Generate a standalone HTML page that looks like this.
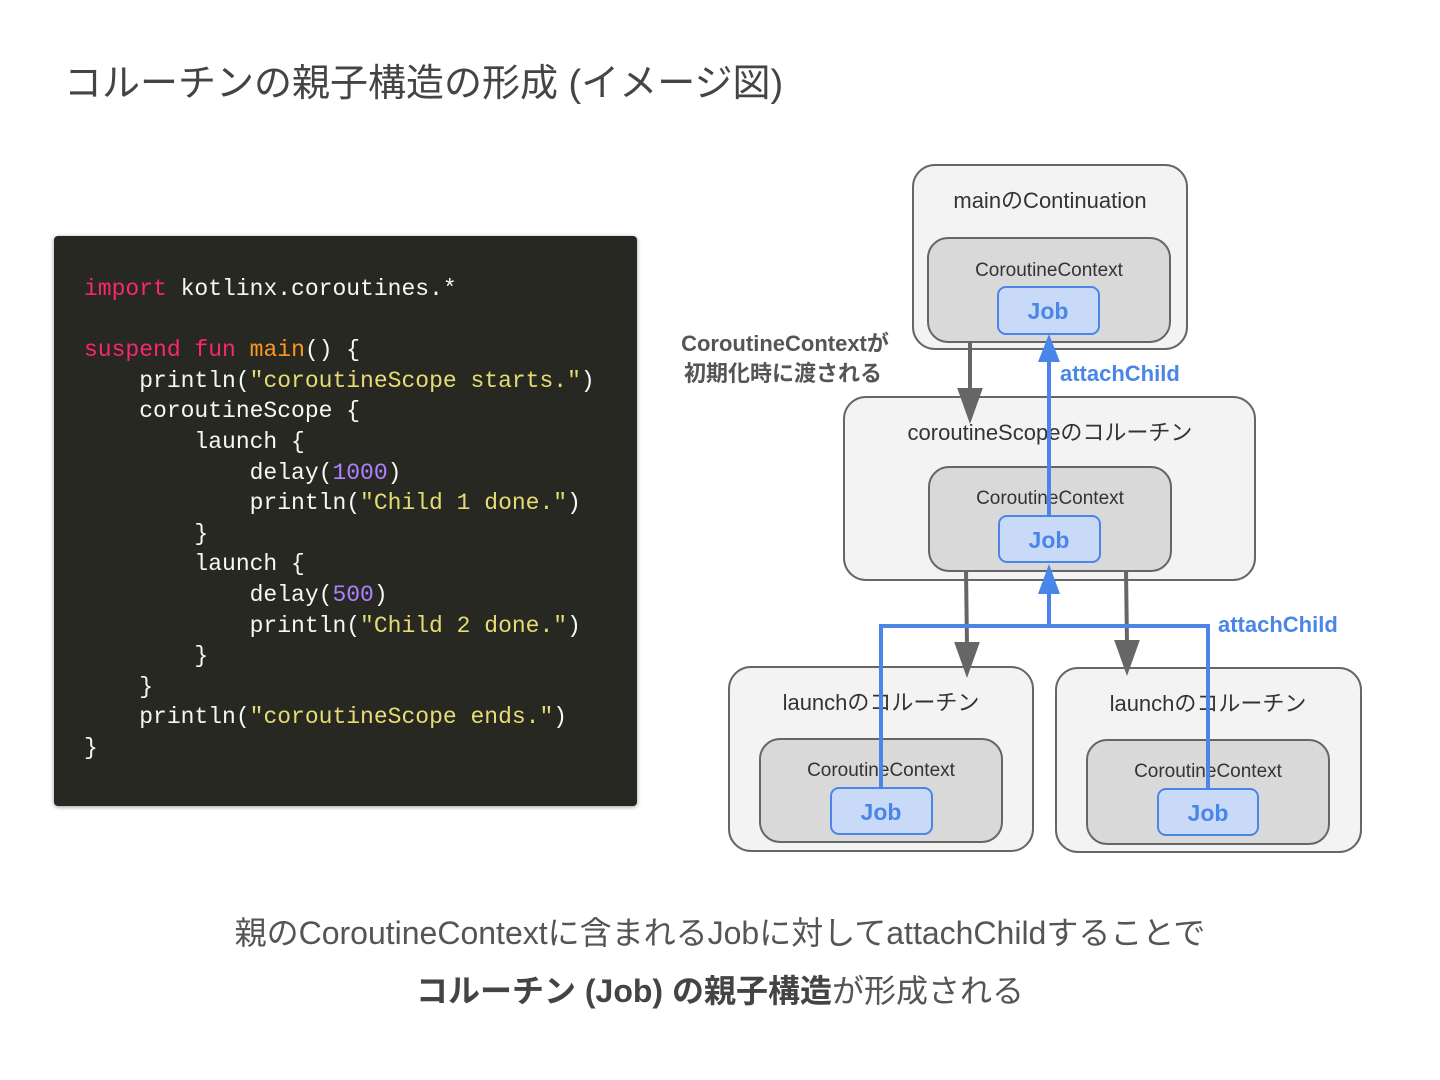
<!DOCTYPE html>
<html><head><meta charset="utf-8"><style>
body{margin:0;width:1440px;height:1080px;background:#fff;position:relative;overflow:hidden;font-family:"Liberation Sans","Noto Sans CJK JP",sans-serif}
.t{position:absolute;left:64px;top:52px;font-size:38px;color:#444;white-space:nowrap}
.code{position:absolute;left:54px;top:236px;width:583px;height:570px;background:#272822;border-radius:4px;box-shadow:0 1px 4px rgba(0,0,0,.4)}
.code pre{margin:0;position:absolute;left:30px;top:273px;font-family:"Liberation Mono","DejaVu Sans Mono",monospace;font-size:23px;line-height:30.6px;color:#f8f8f2}
.k{color:#f92672}.f{color:#fd971f}.s{color:#e6db74}.n{color:#ae81ff}
.b{position:absolute;left:0;width:1440px;text-align:center;font-size:32px;color:#555;white-space:nowrap}
</style></head><body>
<div class="t">コルーチンの親子構造の形成 (イメージ図)</div>
<div class="code"></div>
<pre style="position:absolute;left:84px;top:274px;margin:0;font-family:'Liberation Mono','DejaVu Sans Mono',monospace;font-size:23px;line-height:30.6px;color:#f8f8f2"><span class="k">import</span> kotlinx.coroutines.*

<span class="k">suspend</span> <span class="k">fun</span> <span class="f">main</span>() {
    println(<span class="s">"coroutineScope starts."</span>)
    coroutineScope {
        launch {
            delay(<span class="n">1000</span>)
            println(<span class="s">"Child 1 done."</span>)
        }
        launch {
            delay(<span class="n">500</span>)
            println(<span class="s">"Child 2 done."</span>)
        }
    }
    println(<span class="s">"coroutineScope ends."</span>)
}</pre>
<svg width="1440" height="1080" style="position:absolute;left:0;top:0" font-family="Liberation Sans, Noto Sans CJK JP, sans-serif">
<g stroke="#666" stroke-width="2">
<rect x="913" y="165" width="274" height="184" rx="22" fill="#f3f3f3"/>
<rect x="928" y="238" width="242" height="104" rx="20" fill="#d9d9d9"/>
<rect x="844" y="397" width="411" height="183" rx="22" fill="#f3f3f3"/>
<rect x="929" y="467" width="242" height="104" rx="20" fill="#d9d9d9"/>
<rect x="729" y="667" width="304" height="184" rx="22" fill="#f3f3f3"/>
<rect x="760" y="739" width="242" height="103" rx="20" fill="#d9d9d9"/>
<rect x="1056" y="668" width="305" height="184" rx="22" fill="#f3f3f3"/>
<rect x="1087" y="740" width="242" height="104" rx="20" fill="#d9d9d9"/>
</g>
<g fill="#333" font-size="22" text-anchor="middle">
<text x="1050" y="208">mainのContinuation</text>
<text x="1050" y="440">coroutineScopeのコルーチン</text>
<text x="881" y="710">launchのコルーチン</text>
<text x="1208" y="711">launchのコルーチン</text>
</g>
<g fill="#333" font-size="19" text-anchor="middle">
<text x="1049" y="276">CoroutineContext</text>
<text x="1050" y="504">CoroutineContext</text>
<text x="881" y="776">CoroutineContext</text>
<text x="1208" y="777">CoroutineContext</text>
</g>
<g stroke="#666" stroke-width="4" fill="#666">
<line x1="970" y1="342" x2="970" y2="392"/><polygon points="960,390 980,390 970,418"/>
<line x1="966" y1="570" x2="967" y2="646"/><polygon points="957,644 977,644 967,672"/>
<line x1="1126" y1="570" x2="1127" y2="644"/><polygon points="1117,642 1137,642 1127,670"/>
</g>
<g stroke="#4a86e8" stroke-width="4" fill="none">
<line x1="1049" y1="516" x2="1049" y2="360"/>
<polyline points="881,788 881,626 1208,626 1208,789"/>
<line x1="1049" y1="626" x2="1049" y2="592"/>
</g>
<g fill="#4a86e8">
<polygon points="1038,362 1060,362 1049,334"/>
<polygon points="1038,594 1060,594 1049,564"/>
</g>
<g stroke="#4a86e8" stroke-width="2" fill="#c9daf8">
<rect x="998" y="287" width="101" height="47" rx="8"/>
<rect x="999" y="516" width="101" height="46" rx="8"/>
<rect x="831" y="788" width="101" height="46" rx="8"/>
<rect x="1158" y="789" width="100" height="46" rx="8"/>
</g>
<g fill="#4a86e8" font-size="23" font-weight="bold" text-anchor="middle">
<text x="1048" y="319">Job</text>
<text x="1049" y="548">Job</text>
<text x="881" y="820">Job</text>
<text x="1208" y="821">Job</text>
</g>
<g fill="#4a86e8" font-size="22" font-weight="bold">
<text x="1060" y="381">attachChild</text>
<text x="1218" y="632">attachChild</text>
</g>
<g fill="#555" font-size="22" font-weight="bold" text-anchor="middle">
<text x="785" y="351">CoroutineContextが</text>
<text x="783" y="381">初期化時に渡される</text>
</g>
</svg>
<div class="b" style="top:908px">親のCoroutineContextに含まれるJobに対してattachChildすることで</div>
<div class="b" style="top:966px"><b style="color:#444">コルーチン (Job) の親子構造</b>が形成される</div>
</body></html>
